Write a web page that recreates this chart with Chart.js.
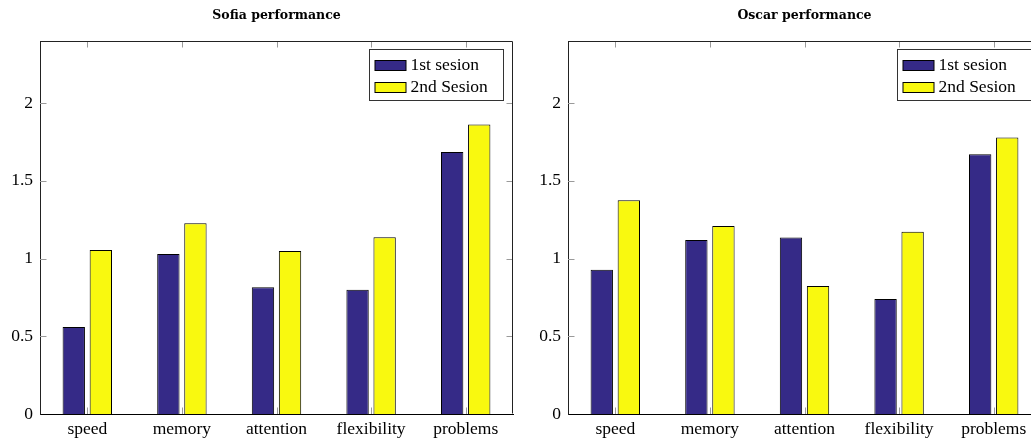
<!DOCTYPE html>
<html><head><meta charset="utf-8">
<script src="https://cdn.jsdelivr.net/npm/chart.js@4/dist/chart.umd.min.js"></script>
<style>
html,body{margin:0;padding:0;width:1031px;height:438px;overflow:hidden;background:#fff}
.box{position:absolute;top:0;height:438px;width:520px}
#b1{left:0}
#b2{left:528px}
</style></head><body>
<div class="box" id="b1"><canvas id="c1"></canvas></div>
<div class="box" id="b2"><canvas id="c2"></canvas></div>
<script>
const categories = ['speed','memory','attention','flexibility','problems'];
const seriesNames = ['1st sesion','2nd Sesion'];
const sofiaFirst = [0.56, 1.03, 0.815, 0.80, 1.685];
const sofiaSecond = [1.055, 1.228, 1.048, 1.138, 1.863];
const oscarFirst = [0.928, 1.119, 1.136, 0.74, 1.672];
const oscarSecond = [1.376, 1.209, 0.823, 1.173, 1.779];
const yTicks = [0, 0.5, 1, 1.5, 2];
const yMax = 2.4;
const titles = ['Sofia performance', 'Oscar performance'];
const colors = ['#352a87', '#f9f90f'];

const serif = "'Liberation Serif', 'Times New Roman', serif";

const framePlugin = {
  id: 'frame',
  beforeDatasetsDraw(chart) {
    const {ctx, chartArea: a, scales} = chart;
    ctx.save();
    ctx.strokeStyle = '#9a9a9a';
    ctx.lineWidth = 1;
    const L = 6.5;
    yTicks.forEach(v => {
      if (v === 0) return;
      const y = Math.round(scales.y.getPixelForValue(v)) + 0.5;
      ctx.beginPath();
      ctx.moveTo(a.left, y); ctx.lineTo(a.left + L, y);
      ctx.moveTo(a.right, y); ctx.lineTo(a.right - L, y);
      ctx.stroke();
    });
    categories.forEach((c, i) => {
      const x = Math.round(scales.x.getPixelForValue(i)) + 0.5;
      ctx.beginPath();
      ctx.moveTo(x, a.top); ctx.lineTo(x, a.top + L);
      ctx.moveTo(x, a.bottom); ctx.lineTo(x, a.bottom - L);
      ctx.stroke();
    });
    ctx.restore();
  },
  afterDraw(chart) {
    const {ctx, chartArea: a} = chart;
    ctx.save();
    // frame top/right
    ctx.strokeStyle = '#222';
    ctx.lineWidth = 1;
    const l = Math.round(a.left) + 0.5, r = Math.round(a.right) - 0.5, t = Math.round(a.top) + 0.5, b = Math.round(a.bottom) - 0.5;
    ctx.beginPath();
    ctx.moveTo(l, t); ctx.lineTo(r, t); ctx.lineTo(r, b);
    ctx.stroke();
    // title
    const opts = chart.options.plugins.frame;
    ctx.fillStyle = '#000';
    ctx.font = "bold 12.5px 'DejaVu Serif', serif";
    ctx.textAlign = 'center';
    ctx.textBaseline = 'alphabetic';
    ctx.fillText(opts.title, (a.left + a.right) / 2, 19);
    // legend
    const w = 134, h = 51;
    const bx = Math.round(a.right - 10 - w) + 0.5, by = Math.round(a.top + 8) + 0.5;
    ctx.fillStyle = '#fff';
    ctx.fillRect(bx, by, w, h);
    ctx.strokeStyle = '#333';
    ctx.strokeRect(bx, by, w, h);
    chart.data.datasets.forEach((ds, i) => {
      const cy = by + 15 + i * 22.4;
      ctx.fillStyle = ds.backgroundColor;
      ctx.fillRect(bx + 5.5, Math.round(cy - 5) , 31, 10);
      ctx.strokeStyle = '#000';
      ctx.strokeRect(bx + 5.5, Math.round(cy - 5) + 0.5, 31, 10);
      ctx.fillStyle = '#000';
      ctx.font = "17.5px " + serif;
      ctx.textAlign = 'left';
      ctx.textBaseline = 'middle';
      ctx.fillText(ds.label, bx + 41, cy + 1);
    });
    ctx.restore();
  }
};

function makeChart(id, title, first, second) {
  return new Chart(document.getElementById(id), {
    type: 'bar',
    data: {
      labels: categories,
      datasets: [
        {label: seriesNames[0], data: first, backgroundColor: colors[0], borderColor: '#000', borderWidth: 1,
         categoryPercentage: 0.572, barPercentage: 0.826},
        {label: seriesNames[1], data: second, backgroundColor: colors[1], borderColor: '#000', borderWidth: 1,
         categoryPercentage: 0.572, barPercentage: 0.826}
      ]
    },
    options: {
      responsive: true,
      maintainAspectRatio: false,
      animation: false,
      layout: {padding: {top: 41, right: 7, left: 0, bottom: 0}},
      plugins: {
        legend: {display: false},
        title: {display: false},
        tooltip: {enabled: false},
        frame: {title: title}
      },
      scales: {
        x: {
          grid: {display: false, drawTicks: false},
          border: {display: true, color: '#000', width: 1},
          ticks: {font: {family: serif, size: 17.5}, color: '#000', padding: 5},
          afterFit(s) { s.height = 24; }
        },
        y: {
          min: 0, max: yMax,
          grid: {display: false, drawTicks: false},
          border: {display: true, color: '#222', width: 1},
          afterBuildTicks(s) { s.ticks = yTicks.map(v => ({value: v})); },
          ticks: {font: {family: serif, size: 17.5}, color: '#000', padding: 7, callback: v => String(v)},
          afterFit(s) { s.width = 40; }
        }
      }
    },
    plugins: [framePlugin]
  });
}

makeChart('c1', titles[0], sofiaFirst, sofiaSecond);
makeChart('c2', titles[1], oscarFirst, oscarSecond);
</script>
</body></html>
